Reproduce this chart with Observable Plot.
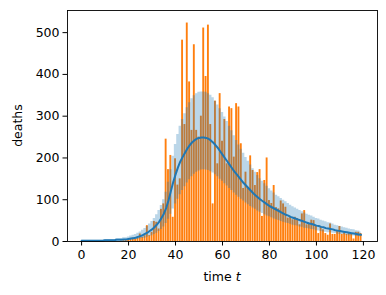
<!DOCTYPE html>
<html>
<head>
<meta charset="utf-8">
<script src="https://cdn.jsdelivr.net/npm/d3@7"></script>
<script src="https://cdn.jsdelivr.net/npm/@observablehq/plot@0.6"></script>
<style>
  html, body { margin: 0; padding: 0; background: #fff; }
</style>
</head>
<body>
<div id="chart"></div>
<script>
// Observed daily deaths (orange bars), t = 0..119
const deaths = [
  0,0,0,0,0,0,0,0,0,0,
  0,0,0,0,0,0,0,1,2,4,
  3,5,8,6,9,18,10,14,38,14,
  22,48,46,30,77,90,245,172,206,58,
  198,135,150,482,280,523,382,266,471,266,
  250,300,511,395,518,280,90,336,186,354,
  240,292,186,322,318,202,330,322,234,127,
  166,127,205,170,134,165,172,60,146,200,
  98,91,134,81,78,97,90,82,56,58,
  52,58,55,40,66,74,40,43,51,50,
  38,19,34,28,19,15,42,17,17,25,
  36,17,21,17,19,17,6,22,22,19
];
// Model mean (blue line)
const meanDeaths = [
  2,2,2,2,2,2,2,2,2,2,
  3,3,3,3,3,4,4,4,5,5,
  6,7,8,9,11,13,15,18,21,25,
  29,34,40,47,56,66,80,98,120,142,
  160,177,191,202,212,222,230,237,242,246,
  248,249,249,248,246,242,237,231,224,216,
  208,200,192,184,176,168,161,154,147,140,
  134,128,122,116,111,106,101,97,93,89,
  85,82,79,76,73,70,67,64,62,59,
  57,55,53,51,49,47,45,43,42,40,
  38,37,35,34,32,31,30,29,27,26,
  25,24,23,22,21,20,19,18,17,16
];
// Credible band (light blue)
const upperDeaths = [
  3,3,3,3,3,3,3,3,3,3,
  5,5,5,5,5,7,7,7,9,9,
  11,13,15,17,20,23,27,31,36,42,
  48,55,64,74,86,100,118,142,172,204,
  232,256,276,292,306,320,332,342,349,354,
  357,358,358,357,354,350,344,336,327,318,
  309,298,287,276,265,253,242,231,221,211,
  201,192,183,174,166,158,150,144,138,132,
  126,121,116,111,107,103,99,95,91,87,
  83,80,77,74,71,68,65,63,61,58,
  55,54,51,49,47,45,44,42,39,38,
  36,35,33,32,30,29,28,26,25,23
];
const lowerDeaths = [
  1,1,1,1,1,1,1,1,1,1,
  1,1,1,1,1,2,2,2,2,2,
  3,3,4,4,5,6,7,8,10,12,
  14,17,20,24,29,35,43,53,65,78,
  90,101,112,122,131,140,148,155,161,166,
  169,171,172,171,170,167,164,160,155,149,
  144,138,133,127,122,116,111,106,101,97,
  92,88,84,80,77,73,70,67,64,61,
  59,57,54,52,50,48,46,44,43,41,
  39,38,37,35,34,32,31,30,29,28,
  26,25,24,23,22,21,21,20,19,18,
  17,17,16,15,14,14,13,12,12,11
];
const xTicks = [0, 20, 40, 60, 80, 100, 120];
const yTicks = [0, 100, 200, 300, 400, 500];

const rows = deaths.map((v, i) => ({
  t: i, deaths: v, mean: meanDeaths[i], lo: lowerDeaths[i], hi: upperDeaths[i]
}));

const FONT = 12.5;
const chart = Plot.plot({
  width: 386,
  height: 295,
  marginLeft: 67,
  marginRight: 9,
  marginTop: 10,
  marginBottom: 54,
  style: { fontFamily: "DejaVu Sans", fontSize: FONT + "px", color: "black", background: "white" },
  x: { domain: [-6, 126] },
  y: { domain: [0, 553] },
  marks: [
    Plot.rect(rows, { x1: d => d.t - 0.4, x2: d => d.t + 0.4, y1: 0, y2: "deaths", fill: "#ff7f0e" }),
    Plot.areaY(rows, { x: "t", y1: "lo", y2: "hi", fill: "#1f77b4", fillOpacity: 0.3, curve: "step" }),
    Plot.line(rows, { x: "t", y: "mean", stroke: "#1f77b4", strokeWidth: 2 }),
    Plot.frame({ stroke: "black", strokeWidth: 0.9 }),
    Plot.axisX({ ticks: xTicks, tickSize: 4.5, tickPadding: 4.5, label: null, fontSize: FONT }),
    Plot.axisY({ ticks: yTicks, tickSize: 4.5, tickPadding: 3.5, label: null, fontSize: FONT })
  ]
});

const svg = d3.select(chart);
svg.append("text")
  .attr("transform", "translate(17,125.5) rotate(-90)")
  .attr("text-anchor", "middle")
  .attr("dominant-baseline", "central")
  .attr("font-size", FONT)
  .attr("fill", "black")
  .text("deaths");
const xl = svg.append("text")
  .attr("x", 222)
  .attr("y", 276)
  .attr("text-anchor", "middle")
  .attr("dominant-baseline", "central")
  .attr("font-size", FONT)
  .attr("fill", "black");
xl.append("tspan").text("time ");
xl.append("tspan").attr("font-style", "italic").text("t");

document.getElementById("chart").appendChild(chart);
</script>
</body>
</html>
